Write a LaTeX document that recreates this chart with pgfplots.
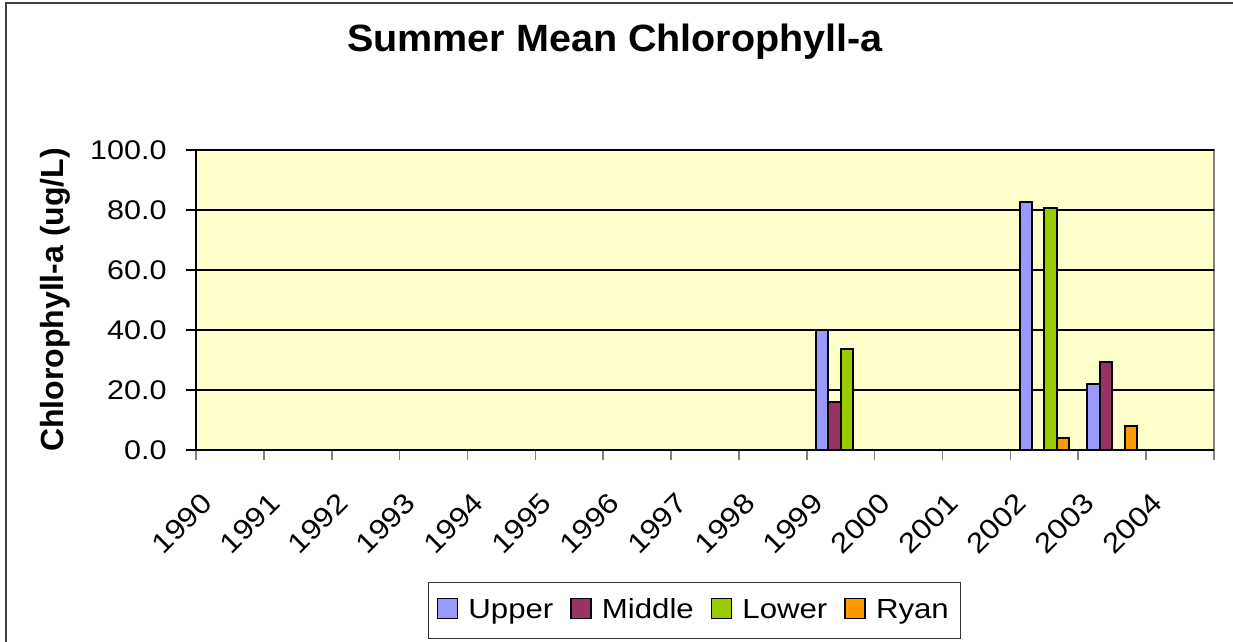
\documentclass[border=0pt]{standalone}
\usepackage{pgfplots}
\pgfplotsset{compat=1.18}
\usepackage{pgfplotstable}
\usepackage{fontspec}
\setmainfont{Liberation Sans}[FakeStretch=1.13]
\newfontfamily\titlefont{Liberation Sans Bold}[FakeStretch=1.04]
\newfontfamily\ylabfont{Liberation Sans Bold}
\newcommand\xl[1]{{\fontsize{14}{16}\selectfont #1}}
\definecolor{bgc}{HTML}{FFFFCC}
\definecolor{cUpper}{HTML}{9999FF}
\definecolor{cMiddle}{HTML}{993366}
\definecolor{cLower}{HTML}{99CC00}
\definecolor{cRyan}{HTML}{FF9900}
\pgfplotstableread{
x y
9 40.0
12 82.6
13 21.9
}\tabUpper
\pgfplotstableread{
x y
9 15.9
13 29.2
}\tabMiddle
\pgfplotstableread{
x y
9 33.8
12 80.6
}\tabLower
\pgfplotstableread{
x y
12 3.9
13 7.9
}\tabRyan
\begin{document}
\begin{tikzpicture}
\useasboundingbox (0,0) rectangle (616.5pt,321pt);
\draw[line width=1pt, black!75] (2.75pt,0) -- (2.75pt,319.5pt) -- (616.5pt,319.5pt);
\begin{axis}[
  at={(98pt,96pt)}, anchor=south west,
  scale only axis, width=509pt, height=150pt,
  xmin=-0.5, xmax=14.5, ymin=0, ymax=100,
  ybar=0pt, bar width=6.2pt,
  axis x line*=bottom, axis y line*=left,
  axis line style={black, line width=0.8pt},
  axis background/.style={fill=bgc, draw=gray, line width=1pt},
  tick align=outside, major tick length=0pt, minor tick length=5pt,
  tick label style={font=\fontsize{13.5}{16}\selectfont},
  xtick={0,1,2,3,4,5,6,7,8,9,10,11,12,13,14},
  xticklabels={\xl{1990},\xl{1991},\xl{1992},\xl{1993},\xl{1994},\xl{1995},\xl{1996},\xl{1997},\xl{1998},\xl{1999},\xl{2000},\xl{2001},\xl{2002},\xl{2003},\xl{2004}},
  minor xtick={-0.5,0.5,1.5,2.5,3.5,4.5,5.5,6.5,7.5,8.5,9.5,10.5,11.5,12.5,13.5,14.5},
  minor x tick style={gray, line width=0.8pt},
  xticklabel style={inner sep=0pt, xshift=-15pt, yshift=-20.5pt, rotate=45, anchor=north east},
  ytick={0,20,40,60,80,100},
  minor ytick={0,20,40,60,80,100},
  minor y tick style={black, line width=0.8pt},
  yticklabel style={inner sep=0pt, anchor=east, xshift=-14.5pt, /pgf/number format/.cd, fixed, fixed zerofill, precision=1, assume math mode=true},
  ymajorgrids, grid style={black, line width=0.6pt},
  title={Summer Mean Chlorophyll-a},
  title style={font=\titlefont\fontsize{19}{22}\selectfont, at={(axis description cs:0.4116,1.287)}, anchor=base},
  ylabel={Chlorophyll-a (ug/L)},
  ylabel style={font=\ylabfont\fontsize{16}{19}\selectfont, at={(axis description cs:-0.1385,0.5)}, anchor=center},
  legend style={at={(axis description cs:0.490,-0.535)}, anchor=center, legend columns=4, draw=black!80, line width=0.6pt, font=\fontsize{13.8}{16}\selectfont, inner xsep=4pt, inner ysep=6.25pt, /tikz/every even column/.append style={column sep=6.5pt}, /tikz/every odd column/.append style={column sep=3pt}},
  legend image code/.code={\draw[#1, line width=0.8pt] (0pt,-4pt) rectangle (10pt,6pt);},
]
\addplot[fill=cUpper, draw=black, line width=1pt] table[x=x,y=y]{\tabUpper};
\addlegendentry{Upper}
\addplot[fill=cMiddle, draw=black, line width=1pt] table[x=x,y=y]{\tabMiddle};
\addlegendentry{Middle}
\addplot[fill=cLower, draw=black, line width=1pt] table[x=x,y=y]{\tabLower};
\addlegendentry{Lower}
\addplot[fill=cRyan, draw=black, line width=1pt] table[x=x,y=y]{\tabRyan};
\addlegendentry{Ryan}
\end{axis}
\end{tikzpicture}
\end{document}
